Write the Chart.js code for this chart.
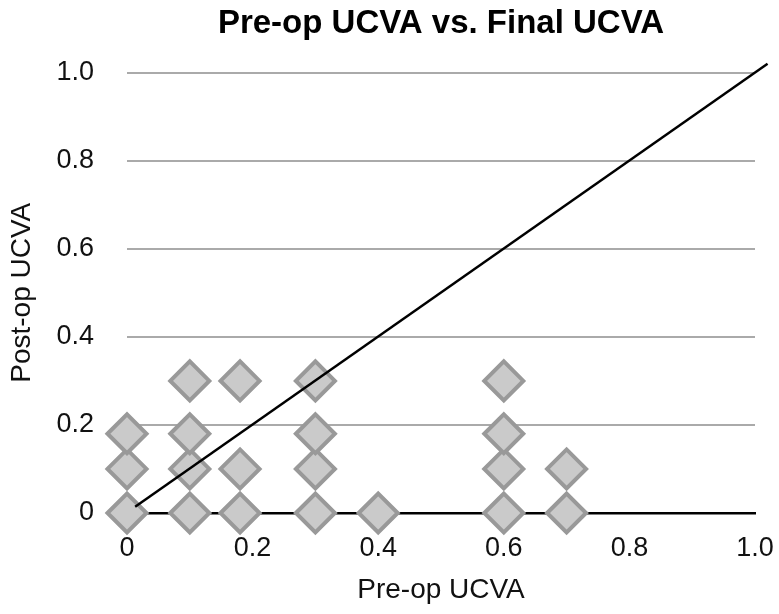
<!DOCTYPE html>
<html>
<head>
<meta charset="utf-8">
<script src="https://cdn.jsdelivr.net/npm/chart.js@4"></script>
<style>
  html, body { margin: 0; padding: 0; background: #fff; }
  #wrap { width: 779px; height: 614px; }
</style>
</head>
<body>
<div id="wrap"><canvas id="chart" width="779" height="614"></canvas></div>
<script>
// Pre-op vs post-op UCVA (logMAR)
const preOp  = [0, 0, 0, 0.1, 0.1, 0.1, 0.1, 0.18, 0.18, 0.18, 0.3, 0.3, 0.3, 0.3, 0.4, 0.6, 0.6, 0.6, 0.6, 0.7, 0.7];
const postOp = [0, 0.1, 0.18, 0, 0.1, 0.18, 0.3, 0, 0.1, 0.3, 0, 0.1, 0.18, 0.3, 0, 0, 0.1, 0.18, 0.3, 0, 0.1];
const refLineX = [0.013, 1.02];
const refLineY = [0.014, 1.02];
const tickValues = [0, 0.2, 0.4, 0.6, 0.8, 1.0];

const FONT = "'Liberation Sans', Arial, Helvetica, sans-serif";

const points = preOp.map((x, i) => ({ x, y: postOp[i] }));
const refLine = refLineX.map((x, i) => ({ x, y: refLineY[i] }));

const tickLabel = v => (v === 0 ? '0' : Number(v).toFixed(1));

// centre the chart title over the plot area instead of the full canvas
const titleOverArea = {
    id: 'titleOverArea',
    afterLayout(chart) {
        const t = chart.titleBlock;
        if (t) {
            t.left = chart.chartArea.left;
            t.right = chart.chartArea.right;
        }
    }
};

new Chart(document.getElementById('chart'), {
    type: 'scatter',
    data: {
        datasets: [
            {
                type: 'line',
                data: refLine,
                borderColor: '#000',
                borderWidth: 2.5,
                pointRadius: 0,
                fill: false,
                clip: false
            },
            {
                data: points,
                pointStyle: 'rectRot',
                pointRadius: 19.5,
                pointHoverRadius: 19.5,
                backgroundColor: '#cacaca',
                borderColor: '#999999',
                borderWidth: 4,
                clip: false
            }
        ]
    },
    options: {
        responsive: false,
        animation: false,
        layout: { padding: { left: 0, right: 24, top: 0, bottom: 0 } },
        plugins: {
            legend: { display: false },
            tooltip: { enabled: false },
            title: {
                display: true,
                text: 'Pre-op UCVA vs. Final UCVA',
                color: '#000',
                font: { family: FONT, size: 33, weight: 'bold', lineHeight: 1.2 },
                padding: { top: 4, bottom: 29 }
            }
        },
        scales: {
            x: {
                type: 'linear',
                min: 0,
                max: 1,
                afterBuildTicks: s => { s.ticks = tickValues.map(v => ({ value: v })); },
                afterFit: s => { s.height = 101; s.paddingRight = 0; s.paddingLeft = 0; },
                grid: { display: false, drawTicks: false },
                border: { display: true, color: '#000', width: 2.5 },
                ticks: {
                    color: '#111',
                    padding: 19,
                    font: { family: FONT, size: 27 },
                    callback: tickLabel
                },
                title: {
                    display: true,
                    text: 'Pre-op UCVA',
                    color: '#111',
                    font: { family: FONT, size: 28 },
                    padding: { top: 0, bottom: 7 }
                }
            },
            y: {
                type: 'linear',
                min: 0,
                max: 1,
                afterBuildTicks: s => { s.ticks = tickValues.map(v => ({ value: v })); },
                afterFit: s => { s.width = 127; },
                grid: {
                    drawTicks: false,
                    color: c => (c.tick && c.tick.value === 0 ? 'rgba(0,0,0,0)' : '#aaaaaa'),
                    lineWidth: 2
                },
                border: { display: false },
                ticks: {
                    color: '#111',
                    padding: 33,
                    font: { family: FONT, size: 27 },
                    callback: tickLabel
                },
                title: {
                    display: true,
                    text: 'Post-op UCVA',
                    color: '#111',
                    font: { family: FONT, size: 28 },
                    padding: { top: 5, bottom: 0 }
                }
            }
        }
    },
    plugins: [titleOverArea]
});
</script>
</body>
</html>
